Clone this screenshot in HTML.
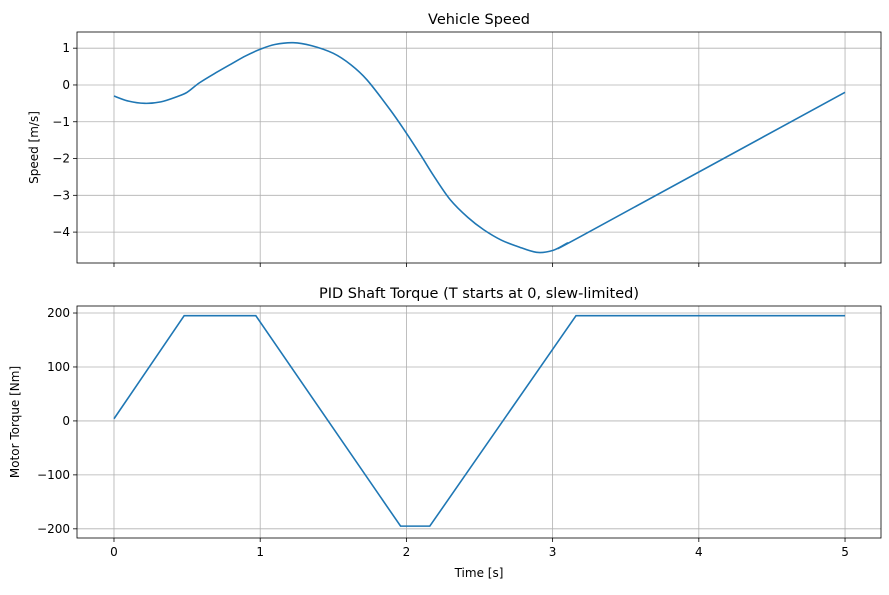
<!DOCTYPE html>
<html><head><meta charset="utf-8"><style>
body{margin:0;background:#fff;}
svg text{font-family:"DejaVu Sans","Liberation Sans",sans-serif;fill:#000;}
</style></head><body>
<svg id="c" width="889" height="590" xmlns="http://www.w3.org/2000/svg"></svg>
<script>
const speedT=[0,0.1,0.21,0.32,0.43,0.5,0.585,0.7,0.81,0.9,1.0,1.1,1.225,1.35,1.5,1.62,1.73,1.89,2.0,2.1,2.19,2.3,2.42,2.53,2.65,2.76,2.89,3.0,3.1,3.2,5.0];
const speedV=[-0.3,-0.44,-0.5,-0.46,-0.32,-0.2,0.06,0.34,0.59,0.79,0.97,1.1,1.15,1.07,0.86,0.55,0.14,-0.68,-1.31,-1.92,-2.49,-3.12,-3.6,-3.94,-4.22,-4.39,-4.55,-4.5,-4.3,-4.1,-0.2];
const torqueT=[0,0.48,0.97,1.96,2.16,3.16,5.0];
const torqueV=[4,195,195,-195,-195,195,195];
const xTicks=[0,1,2,3,4,5];
const speedTicks=[1,0,-1,-2,-3,-4];
const torqueTicks=[200,100,0,-100,-200];
const NS="http://www.w3.org/2000/svg";
const svg=document.getElementById('c');
function mk(t,a,txt){const e=document.createElementNS(NS,t);for(const k in a)e.setAttribute(k,a[k]);if(txt!==undefined)e.textContent=txt;svg.appendChild(e);return e;}
const L=77,R=881;
const xs=t=>L+(t+0.253)/(5.499)*(R-L);
function smoothPath(P){
  let d='M'+P[0][0]+','+P[0][1];
  for(let i=0;i<P.length-1;i++){
    const p0=P[Math.max(0,i-1)],p1=P[i],p2=P[i+1],p3=P[Math.min(P.length-1,i+2)];
    const c1=[p1[0]+(p2[0]-p0[0])/6,p1[1]+(p2[1]-p0[1])/6];
    const c2=[p2[0]-(p3[0]-p1[0])/6,p2[1]-(p3[1]-p1[1])/6];
    if(i===P.length-2) d+=' L'+p2[0]+','+p2[1];
    else d+=' C'+c1+' '+c2+' '+p2[0]+','+p2[1];
  }
  return d;
}
function panel(top,bot,ymax,ymin,ticks,T,V,title,ylab,name,showX,smooth){
  const ys=v=>top+(ymax-v)/(ymax-ymin)*(bot-top);
  for(const t of xTicks){
    const g=mk('line',{x1:xs(t),x2:xs(t),y1:top,y2:bot,stroke:'#b0b0b0','stroke-width':0.8});
    
    const tk=mk('line',{x1:xs(t),x2:xs(t),y1:bot,y2:bot+4,stroke:'#000','stroke-width':0.8});
    
    if(showX){const lb=mk('text',{x:xs(t),y:bot+18,'font-size':12,'text-anchor':'middle'},t);
      }
  }
  for(const v of ticks){
    const y=ys(v);
    const g=mk('line',{x1:L,x2:R,y1:y,y2:y,stroke:'#b0b0b0','stroke-width':0.8});
    
    const tk=mk('line',{x1:L-4,x2:L,y1:y,y2:y,stroke:'#000','stroke-width':0.8});
    
    const lb=mk('text',{x:L-7,y:y+4,'font-size':12,'text-anchor':'end'},v<0?'\u2212'+(-v):v);
    
  }
  const P=T.map((t,i)=>[xs(t),ys(V[i])]);
  let p;
  if(smooth) p=mk('path',{d:smoothPath(P),fill:'none',stroke:'#1f77b4','stroke-width':1.6});
  else p=mk('polyline',{points:P.map(q=>q.join(',')).join(' '),fill:'none',stroke:'#1f77b4','stroke-width':1.6});
  
  const fr=mk('rect',{x:L,y:top,width:R-L,height:bot-top,fill:'none',stroke:'#000','stroke-width':0.8});
  
  const ti=mk('text',{x:(L+R)/2,y:top-8,'font-size':14.5,'text-anchor':'middle'},title);
  
  const yl=mk('text',{x:0,y:0,'font-size':12,'text-anchor':'middle',transform:`translate(${ylab[1]},${(top+bot)/2}) rotate(-90)`},ylab[0]);
  
}
panel(32,263,1.44,-4.84,speedTicks,speedT,speedV,'Vehicle Speed',['Speed [m/s]',38],'speed',false,true);
panel(306,538,213,-217,torqueTicks,torqueT,torqueV,'PID Shaft Torque (T starts at 0, slew-limited)',['Motor Torque [Nm]',19],'torque',true,false);
const xl=mk('text',{x:(L+R)/2,y:577,'font-size':12,'text-anchor':'middle'},'Time [s]');

</script>
</body></html>
